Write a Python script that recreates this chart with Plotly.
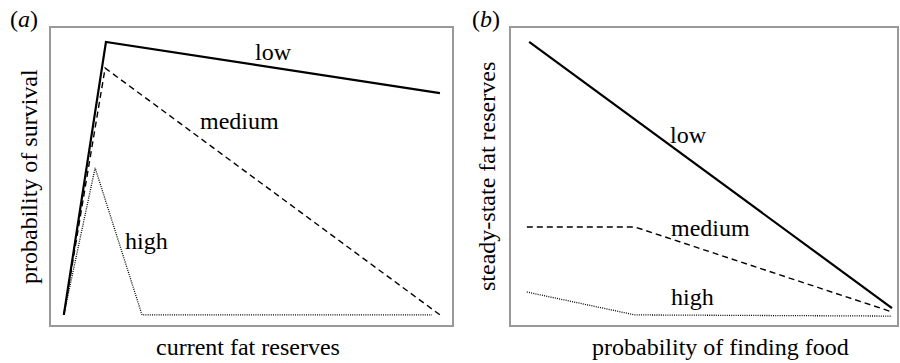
import plotly.graph_objects as go

W, H = 900, 363

# Panel (a): probability of survival vs current fat reserves
a_low_x = [0.032, 0.137, 0.970]
a_low_y = [0.034, 0.953, 0.781]
a_med_x = [0.032, 0.135, 0.970]
a_med_y = [0.034, 0.865, 0.034]
a_high_x = [0.032, 0.110, 0.227, 0.950]
a_high_y = [0.034, 0.529, 0.034, 0.034]

# Panel (b): steady-state fat reserves vs probability of finding food
b_low_x = [0.047, 0.987]
b_low_y = [0.953, 0.057]
b_med_x = [0.041, 0.321, 0.987]
b_med_y = [0.330, 0.330, 0.044]
b_high_x = [0.041, 0.321, 0.987]
b_high_y = [0.111, 0.034, 0.030]

series_labels = ["low", "medium", "high"]
a_label_pos = [(0.556, 0.919), (0.469, 0.687), (0.237, 0.283)]
b_label_pos = [(0.461, 0.640), (0.516, 0.327), (0.469, 0.094)]

FONT = "Liberation Serif"
FS = 24

fig = go.Figure()

styles = {
    "low": dict(color="black", width=2.2, dash="solid"),
    "medium": dict(color="black", width=1.4, dash="6px,4px"),
    "high": dict(color="black", width=1.3, dash="1px,1.2px"),
}

for name, xs, ys in [("low", a_low_x, a_low_y), ("medium", a_med_x, a_med_y), ("high", a_high_x, a_high_y)]:
    fig.add_trace(go.Scatter(x=xs, y=ys, mode="lines", line=styles[name], xaxis="x", yaxis="y", showlegend=False, hoverinfo="skip"))
for name, xs, ys in [("low", b_low_x, b_low_y), ("medium", b_med_x, b_med_y), ("high", b_high_x, b_high_y)]:
    fig.add_trace(go.Scatter(x=xs, y=ys, mode="lines", line=styles[name], xaxis="x2", yaxis="y2", showlegend=False, hoverinfo="skip"))

ax_common = dict(range=[0, 1], showgrid=False, zeroline=False, showticklabels=False, ticks="",
                 showline=True, linecolor="#999999", linewidth=1.5, mirror=True, fixedrange=True)

y_dom = [1 - 325 / H, 1 - 28 / H]
fig.update_layout(
    width=W, height=H,
    margin=dict(l=0, r=0, t=0, b=0),
    paper_bgcolor="white", plot_bgcolor="white",
    xaxis=dict(domain=[51 / W, 452 / W], anchor="y", **ax_common),
    yaxis=dict(domain=y_dom, anchor="x", **ax_common),
    xaxis2=dict(domain=[511 / W, 897 / W], anchor="y2", **ax_common),
    yaxis2=dict(domain=y_dom, anchor="x2", **ax_common),
    font=dict(family=FONT, size=FS, color="black"),
)

annotations = []
for lab, (x, y) in zip(series_labels, a_label_pos):
    annotations.append(dict(text=lab, x=x, y=y, xref="x", yref="y", showarrow=False, font=dict(family=FONT, size=FS, color="black")))
for lab, (x, y) in zip(series_labels, b_label_pos):
    annotations.append(dict(text=lab, x=x, y=y, xref="x2", yref="y2", showarrow=False, font=dict(family=FONT, size=FS, color="black")))

def px(x, y):
    return x / W, 1 - y / H

for text, (x, y), ang in [
    ("probability of survival", (29, 177), -90),
    ("steady-state fat reserves", (487, 177), -90),
    ("current fat reserves", (248, 347), 0),
    ("probability of finding food", (720, 347), 0),
    ("(<i>a</i>)", (24, 19), 0),
    ("(<i>b</i>)", (486, 19), 0),
]:
    xp, yp = px(x, y)
    annotations.append(dict(text=text, x=xp, y=yp, xref="paper", yref="paper", showarrow=False,
                            textangle=ang, xanchor="center", yanchor="middle",
                            font=dict(family=FONT, size=FS, color="black")))

fig.update_layout(annotations=annotations)
fig.write_html("out.html", config={"displayModeBar": False},
               post_script="document.body.style.margin='0px';document.body.style.overflow='hidden';")
